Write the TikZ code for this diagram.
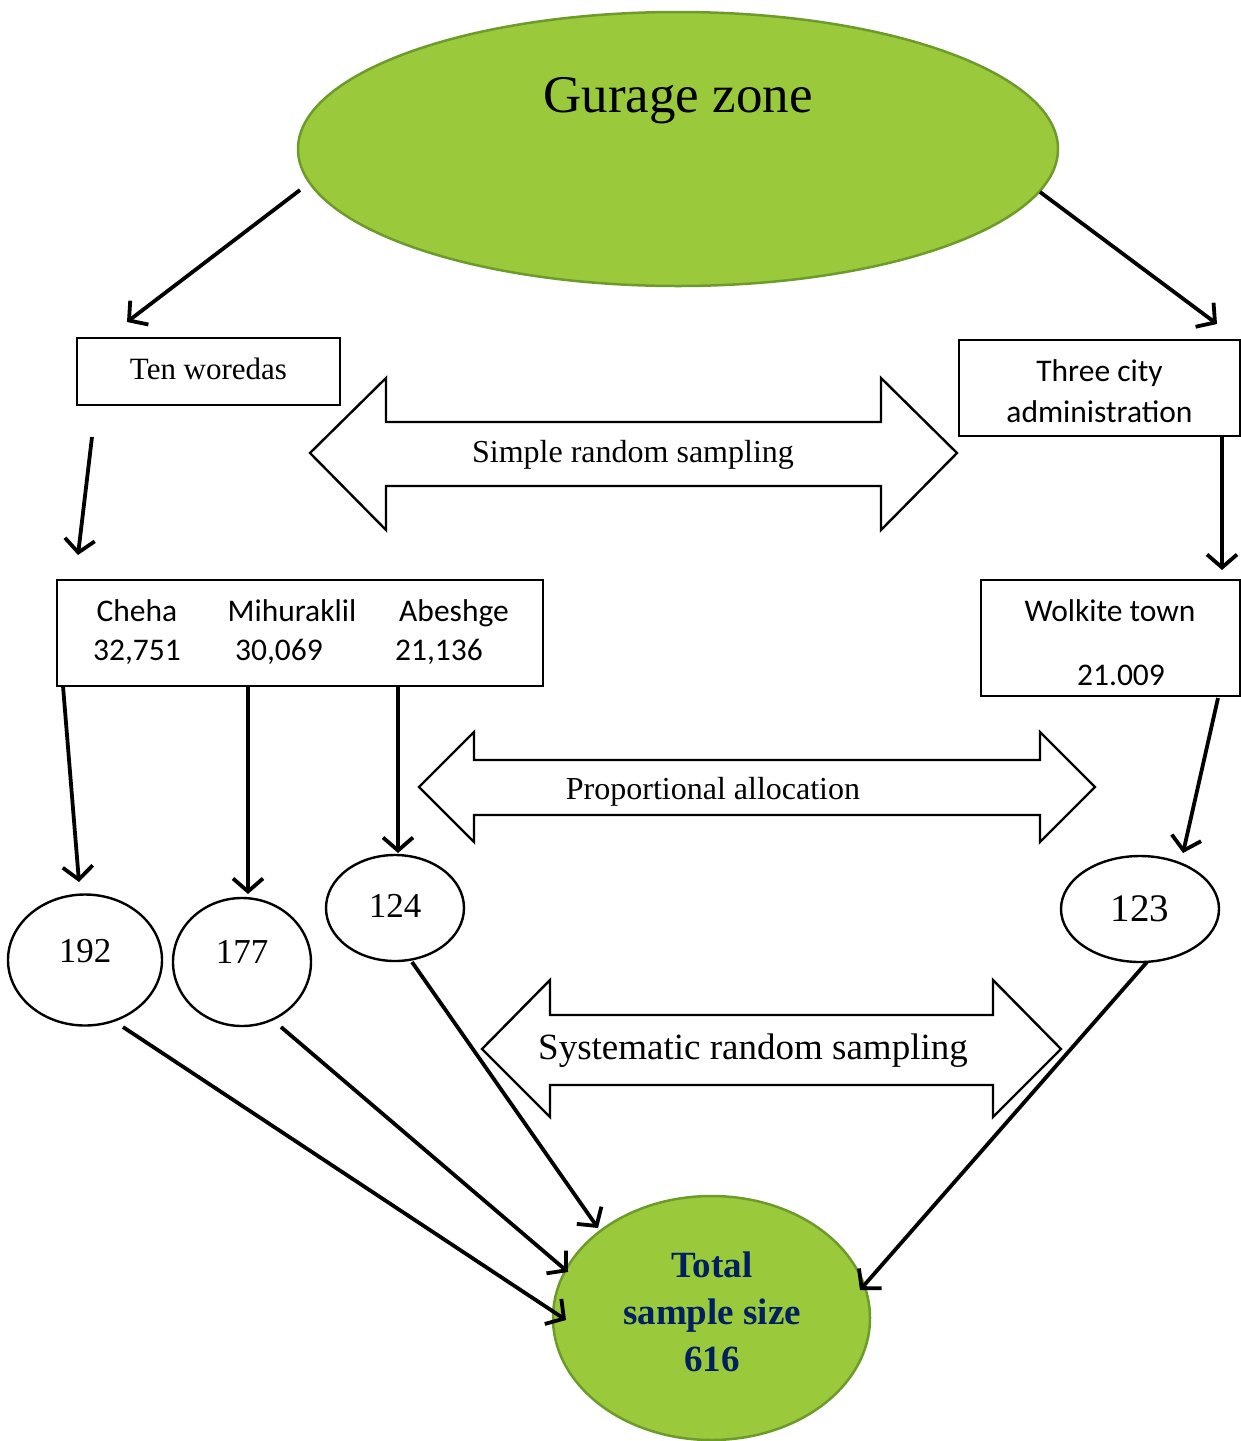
\documentclass[tikz,border=0pt]{standalone}
\usepackage{fontspec}
\setmainfont{Liberation Serif}
\newfontfamily\calfont{Carlito}
\usetikzlibrary{shapes.geometric,arrows.meta}
\definecolor{lgreen}{HTML}{9ACA3C}
\definecolor{dgreen}{HTML}{6E9A2C}
\definecolor{navy}{HTML}{002060}
\tikzset{
  arr/.style={line width=3.8pt,-{Straight Barb[length=13pt,width=30pt]}},
  boxx/.style={draw,line width=2.6pt,rectangle,inner sep=0pt},
  oval/.style={draw,line width=2.4pt,ellipse,inner sep=0pt},
  goval/.style={draw=dgreen,fill=lgreen,line width=2.5pt,ellipse,inner sep=0pt},
  dbl/.style={draw,line width=2.4pt,line join=miter},
  txt/.style={inner sep=0pt}
}
\begin{document}
\begin{tikzpicture}[x=1pt,y=-1pt]
\useasboundingbox (0,0) rectangle (1241,1441);
% top ellipse
\node[goval,minimum width=760pt,minimum height=274pt] (gz) at (678,149) {};
\node[txt,font=\fontsize{53}{60}\selectfont] (gzt) at (678,101) {Gurage zone};
% boxes
\node[boxx,minimum width=263pt,minimum height=67pt] (tw) at (208.5,371.5) {};
\node[txt,font=\fontsize{31}{36}\selectfont] (twt) at (208.5,369) {Ten woredas};
\node[boxx,minimum width=281pt,minimum height=96pt] (tc) at (1099.5,388) {};
\node[txt,align=center,font=\calfont\fontsize{31.5}{41}\selectfont] (tct) at (1099.5,391) {Three city\\ administration};
\node[boxx,minimum width=486pt,minimum height=106pt] (ch) at (300,633) {};
\tikzset{cal/.style={txt,font=\calfont\fontsize{31.5}{36}\selectfont}}
\node[cal,anchor=base] (c1) at (137,621) {Cheha};
\node[cal,anchor=base] (c2) at (137,660) {32,751};
\node[cal,anchor=base] (m1) at (292,621) {Mihuraklil};
\node[cal,anchor=base] (m2) at (279,660) {30,069};
\node[cal,anchor=base] (a1) at (454,621) {Abeshge};
\node[cal,anchor=base] (a2) at (439,660) {21,136};
\node[boxx,minimum width=259pt,minimum height=116pt] (wk) at (1110.5,638) {};
\node[cal,anchor=base] (w1) at (1110,621) {Wolkite town};
\node[cal,anchor=base] (w2) at (1121,685) {21.009};
% small ellipses
\tikzset{num/.style={txt,font=\fontsize{35}{40}\selectfont}}
\node[oval,minimum width=154pt,minimum height=131pt] (e192) at (85,960) {};
\node[num] at (85,951) {192};
\node[oval,minimum width=138pt,minimum height=128pt] (e177) at (242,962) {};
\node[num] at (242,952) {177};
\node[oval,minimum width=138pt,minimum height=106pt] (e124) at (395,908) {};
\node[num] at (395,906) {124};
\node[oval,minimum width=158pt,minimum height=106pt] (e123) at (1140,909) {};
\node[txt,font=\fontsize{39}{44}\selectfont] at (1140,909) {123};
% bottom ellipse
\node[goval,minimum width=317pt,minimum height=244pt] (tot) at (711.5,1318) {};
\node[txt,align=center,text=navy,font=\bfseries\fontsize{37}{47}\selectfont] (tott) at (712,1312) {Total\\ sample size\\ 616};
% double arrows
\draw[dbl] (310,453) -- (386,378) -- (386,422) -- (881,422) -- (881,378) -- (957,453) -- (881,530) -- (881,486) -- (386,486) -- (386,530) -- cycle;
\node[txt,font=\fontsize{32}{36}\selectfont] (srs) at (633,455) {Simple random sampling};
\draw[dbl] (419,787) -- (474,732) -- (474,760) -- (1040,760) -- (1040,732) -- (1095,787) -- (1040,842) -- (1040,815) -- (474,815) -- (474,842) -- cycle;
\node[txt,font=\fontsize{32}{36}\selectfont] (pa) at (713,792) {Proportional allocation};
\draw[dbl] (482,1049) -- (550,980) -- (550,1015) -- (993,1015) -- (993,980) -- (1061,1049) -- (993,1117) -- (993,1085) -- (550,1085) -- (550,1117) -- cycle;
\node[txt,font=\fontsize{37}{42}\selectfont] (sys) at (753,1051) {Systematic random sampling};
% connector coordinates
\coordinate (p1a) at (300,190); \coordinate (p1b) at (127,322);
\coordinate (p2a) at (1040,192); \coordinate (p2b) at (1217,324);
\coordinate (p3a) at (92,437); \coordinate (p3b) at (78,555);
\coordinate (p4a) at (1222,436); \coordinate (p4b) at (1222,570);
\coordinate (p5a) at (63,686); \coordinate (p5b) at (79,882);
\coordinate (p6a) at (248,686); \coordinate (p6b) at (248,894);
\coordinate (p7a) at (398,686); \coordinate (p7b) at (398,853);
\coordinate (p8a) at (1218,698); \coordinate (p8b) at (1183,853);
\coordinate (q1a) at (123,1027); \coordinate (q1b) at (566,1320);
\coordinate (q2a) at (281,1027); \coordinate (q2b) at (568,1272);
\coordinate (q3a) at (412,962); \coordinate (q3b) at (598,1228);
\coordinate (q4a) at (1147,962); \coordinate (q4b) at (860,1290);
\draw[arr] (p1a) -- (p1b);
\draw[arr] (p2a) -- (p2b);
\draw[arr] (p3a) -- (p3b);
\draw[arr] (p4a) -- (p4b);
\draw[arr] (p5a) -- (p5b);
\draw[arr] (p6a) -- (p6b);
\draw[arr] (p7a) -- (p7b);
\draw[arr] (p8a) -- (p8b);
\draw[arr] (q1a) -- (q1b);
\draw[arr] (q2a) -- (q2b);
\draw[arr] (q3a) -- (q3b);
\draw[arr] (q4a) -- (q4b);
\end{tikzpicture}
\end{document}
